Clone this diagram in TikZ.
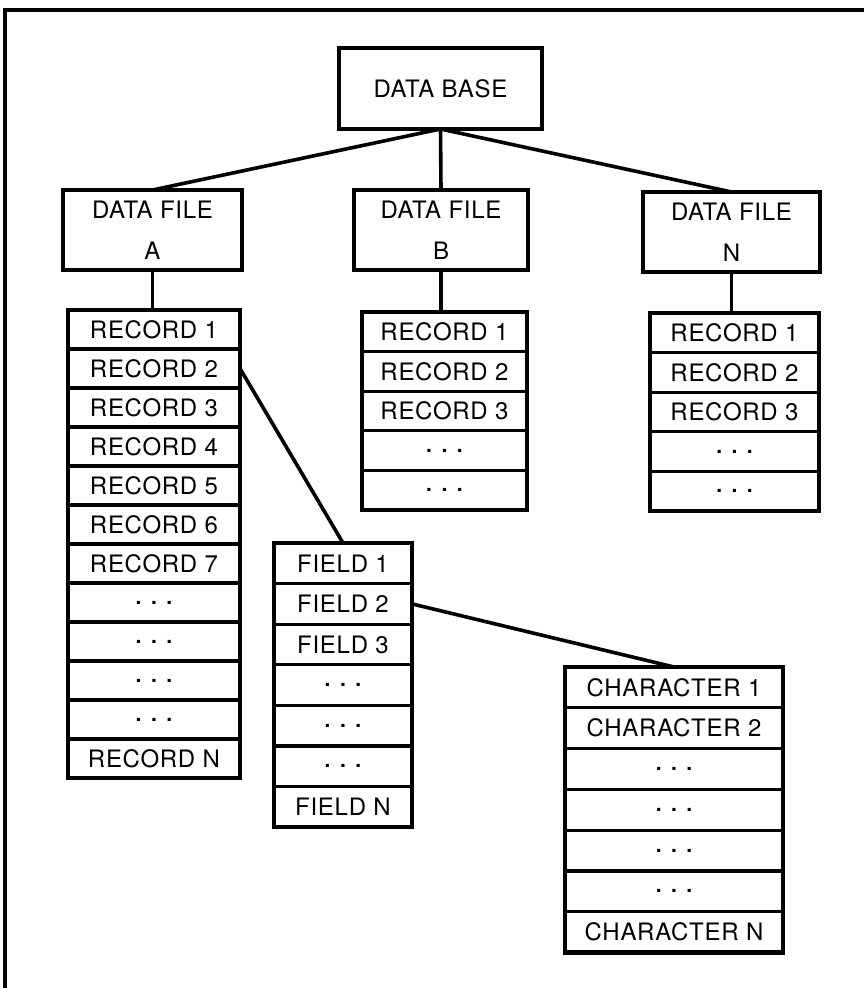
\documentclass[tikz,border=0pt]{standalone}
\usepackage{fontspec}
\setmainfont{TeX Gyre Heros}[LetterSpace=3]
\usetikzlibrary{positioning}
\newcommand{\rowdots}{{\fontsize{15}{15}\selectfont.\hspace{3.5pt}.\hspace{3.5pt}.}}

\begin{document}
\begin{tikzpicture}
	[x=0.5pt,y=-0.5pt,line width=1.6pt,
	every node/.style={draw,rectangle,inner sep=0pt,outer sep=0pt,font=\fontsize{12}{20.5}\selectfont},
	filebox/.style={minimum height=40pt,align=center},
	cell/.style={minimum height=#1},
	stackframe/.style={line width=2.2pt},
	link/.style={line width=1.8pt}]
	\useasboundingbox (0,0) rectangle (864,988);
	\draw[line width=2pt] (5,988) -- (5,10) -- (864,10);

	\node[filebox,minimum width=101.5pt,minimum height=40.5pt] (db) at (440.5,88.5) {DATA BASE};
	\node[filebox,minimum width=89.5pt] (fa) at (152.5,230) {DATA FILE\\A};
	\node[filebox,minimum width=87pt] (fb) at (441,230) {DATA FILE\\B};
	\node[filebox,minimum width=88.5pt] (fn) at (731.5,232) {DATA FILE\\N};

	\foreach \txt [count=\i] in {RECORD 1,RECORD 2,RECORD 3,RECORD 4,RECORD 5,RECORD 6,RECORD 7,\rowdots,\rowdots,\rowdots,\rowdots,RECORD N}
		\node[cell=19.5pt,minimum width=86pt] (ra\i) at (154,{290.5+39*\i}) {\txt};
	\foreach \txt [count=\i] in {RECORD 1,RECORD 2,RECORD 3,\rowdots,\rowdots}
		\node[cell=19.8pt,minimum width=82.5pt] (rb\i) at (444.5,{292.2+39.6*\i}) {\txt};
	\foreach \txt [count=\i] in {RECORD 1,RECORD 2,RECORD 3,\rowdots,\rowdots}
		\node[cell=19.8pt,minimum width=84.5pt] (rn\i) at (734.5,{293.2+39.6*\i}) {\txt};
	\foreach \txt [count=\i] in {FIELD 1,FIELD 2,FIELD 3,\rowdots,\rowdots,\rowdots,FIELD N}
		\node[cell=20.3pt,minimum width=69pt] (fd\i) at (343,{522.7+40.6*\i}) {\txt};
	\foreach \txt [count=\i] in {CHARACTER 1,CHARACTER 2,\rowdots,\rowdots,\rowdots,\rowdots,CHARACTER N}
		\node[cell=20.4pt,minimum width=109pt] (ch\i) at (674,{646.6+40.8*\i}) {\txt};

	\draw[stackframe] (ra1.north west) rectangle (ra12.south east);
	\draw[stackframe] (rb1.north west) rectangle (rb5.south east);
	\draw[stackframe] (rn1.north west) rectangle (rn5.south east);
	\draw[stackframe] (fd1.north west) rectangle (fd7.south east);
	\draw[stackframe] (ch1.north west) rectangle (ch7.south east);

	\draw[link] (db.south) -- (fa.north);
	\draw[link] (db.south) -- (fb.north);
	\draw[link] (db.south) -- (fn.north);
	\draw[link] (fa.south) -- (fa.south |- ra1.north);
	\draw[link] (fb.south) -- (fb.south |- rb1.north);
	\draw[link] (fn.south) -- (fn.south |- rn1.north);
	\draw[link] (ra2.east) -- (fd1.north);
	\draw[link] (fd2.east) -- (ch1.north);
\end{tikzpicture}
\end{document}
